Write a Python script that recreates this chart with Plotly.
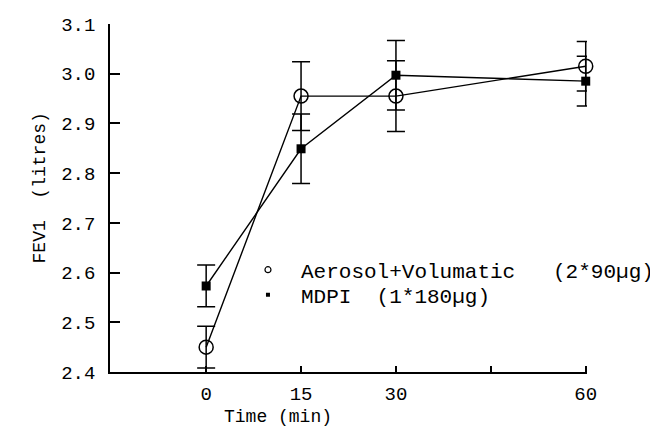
import plotly.graph_objects as go

time_min = [0, 15, 30, 60]
aerosol = [2.450, 2.955, 2.955, 3.015]
aerosol_err = [0.042, 0.069, 0.071, 0.050]
mdpi = [2.573, 2.849, 2.997, 2.985]
mdpi_err = [0.042, 0.070, 0.070, 0.050]

x_tickvals = [0, 15, 30, 45, 60]
x_ticktext = ["0", "15", "30", "", "60"]
y_tickvals = [2.4, 2.5, 2.6, 2.7, 2.8, 2.9, 3.0, 3.1]
y_ticktext = ["2.4", "2.5", "2.6", "2.7", "2.8", "2.9", "3.0", "3.1"]

name_a = "Aerosol+Volumatic   (2*90µg)"
name_m = "MDPI  (1*180µg)"

FONT = "Liberation Mono, Courier New, monospace"

fig = go.Figure()

fig.add_trace(go.Scatter(
    x=time_min, y=aerosol, mode="lines+markers", showlegend=False, cliponaxis=False,
    line=dict(color="black", width=1.4),
    marker=dict(symbol="circle-open", size=14, color="black", line=dict(width=1.5)),
    error_y=dict(type="data", array=aerosol_err, color="black", thickness=1.5, width=9),
))
fig.add_trace(go.Scatter(
    x=time_min, y=mdpi, mode="lines+markers", showlegend=False, cliponaxis=False,
    line=dict(color="black", width=1.4),
    marker=dict(symbol="square", size=9, color="black"),
    error_y=dict(type="data", array=mdpi_err, color="black", thickness=1.5, width=9),
))

# legend-only entries (marker without line)
fig.add_trace(go.Scatter(
    x=[None], y=[None], mode="markers", name=name_a, legend="legend",
    marker=dict(symbol="circle-open", size=6, color="black", line=dict(width=1.2)),
))
fig.add_trace(go.Scatter(
    x=[None], y=[None], mode="markers", name=name_m, legend="legend2",
    marker=dict(symbol="square", size=4, color="black"),
))

leg_common = dict(xanchor="left", yanchor="middle", bgcolor="rgba(0,0,0,0)",
                  font=dict(family=FONT, size=21, color="black"), itemwidth=56)

fig.update_layout(
    width=658, height=428,
    margin=dict(l=102, r=79, t=16, b=64, autoexpand=False),
    paper_bgcolor="white", plot_bgcolor="white",
    font=dict(family=FONT, size=19, color="black"),
    legend=dict(x=0.262, y=0.293, **leg_common),
    legend2=dict(x=0.262, y=0.221, **leg_common),
    annotations=[
        dict(text="Time (min)", xref="paper", yref="paper", x=0.353, y=-0.13,
             xanchor="center", yanchor="middle", showarrow=False,
             font=dict(family=FONT, size=18, color="black")),
        dict(text="FEV1  (litres)", xref="paper", yref="paper", x=-0.147, y=0.53,
             xanchor="center", yanchor="middle", showarrow=False, textangle=-90,
             font=dict(family=FONT, size=18, color="black")),
    ],
)

fig.update_xaxes(
    range=[-15.2, 60.2], tickvals=x_tickvals, ticktext=x_ticktext,
    showgrid=False, zeroline=False, showline=True, linecolor="black", linewidth=1.5,
    ticks="inside", ticklen=6, tickwidth=1.5, tickcolor="black", ticklabelstandoff=3,
)
fig.update_yaxes(
    range=[2.4, 3.1], tickvals=y_tickvals, ticktext=y_ticktext,
    showgrid=False, zeroline=False, showline=True, linecolor="black", linewidth=1.5,
    ticks="inside", ticklen=10, tickwidth=1.5, tickcolor="black", ticklabelstandoff=9,
)

fig.write_html("out.html")
